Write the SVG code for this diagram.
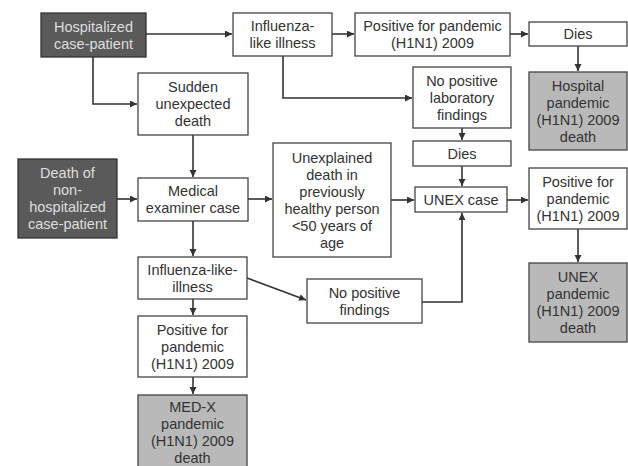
<svg xmlns="http://www.w3.org/2000/svg" width="628" height="466" viewBox="0 0 628 466">
<defs>
<marker id="ah" markerUnits="userSpaceOnUse" markerWidth="8" markerHeight="8" refX="7" refY="3.5" orient="auto">
<path d="M0,0 L7,3.5 L0,7 Z" fill="#333"/>
</marker>
<style>
.b rect{fill:#fff;stroke:#444;stroke-width:1.3}
.d rect{fill:#5a5a5a;stroke:#333;stroke-width:1.3}
.g rect{fill:#b9b9b9;stroke:#444;stroke-width:1.3}
text{font-family:"Liberation Sans",Arial,sans-serif;font-size:14.5px;text-anchor:middle;fill:#333}
.d text{fill:#dedede}
#connectors path{fill:none;stroke:#333;stroke-width:1.6;marker-end:url(#ah)}
</style>
</defs>
<rect width="628" height="466" fill="#fff"/>
<g id="connectors">
<path d="M146,34 H232"/>
<path d="M332,34 H354"/>
<path d="M510,34 H528"/>
<path d="M578,46 V71"/>
<path d="M93,57 V104 H137"/>
<path d="M283,56 V98 H412"/>
<path d="M462,128 V140"/>
<path d="M462,166 V186"/>
<path d="M193,135 V177"/>
<path d="M117,199 H137"/>
<path d="M248,199 H272"/>
<path d="M391,200 H414"/>
<path d="M507,200 H528"/>
<path d="M578,229 V262"/>
<path d="M193,221 V256"/>
<path d="M247,278 L306,300"/>
<path d="M422,302 H462 V213"/>
<path d="M193,299 V315"/>
<path d="M193,377 V394"/>
</g>
<g id="hosp" class="d"><rect x="41" y="13" width="105" height="44"/><text x="93.5" y="31.5">Hospitalized</text><text x="93.5" y="48.5">case-patient</text></g>
<g id="ili1" class="b"><rect x="233" y="13" width="99" height="43"/><text x="282.5" y="31">Influenza-</text><text x="282.5" y="48">like illness</text></g>
<g id="pos1" class="b"><rect x="355" y="13" width="155" height="43"/><text x="432.5" y="31">Positive for pandemic</text><text x="432.5" y="48">(H1N1) 2009</text></g>
<g id="dies1" class="b"><rect x="529" y="22" width="98" height="24"/><text x="578" y="39">Dies</text></g>
<g id="hospdeath" class="g"><rect x="529" y="72" width="98" height="78"/><text x="578" y="90.5">Hospital</text><text x="578" y="107.5">pandemic</text><text x="578" y="124.5">(H1N1) 2009</text><text x="578" y="141.5">death</text></g>
<g id="nolab" class="b"><rect x="413" y="67" width="98" height="61"/><text x="462" y="85.5">No positive</text><text x="462" y="102.5">laboratory</text><text x="462" y="119.5">findings</text></g>
<g id="dies2" class="b"><rect x="413" y="141" width="98" height="25"/><text x="462" y="158.5">Dies</text></g>
<g id="sudden" class="b"><rect x="138" y="73" width="110" height="62"/><text x="193" y="92">Sudden</text><text x="193" y="109">unexpected</text><text x="193" y="126">death</text></g>
<g id="deathnon" class="d"><rect x="18" y="159" width="99" height="79"/><text x="67.5" y="178">Death of</text><text x="67.5" y="195">non-</text><text x="67.5" y="212">hospitalized</text><text x="67.5" y="229">case-patient</text></g>
<g id="me" class="b"><rect x="138" y="178" width="110" height="43"/><text x="193" y="196">Medical</text><text x="193" y="213">examiner case</text></g>
<g id="unexpl" class="b"><rect x="273" y="143" width="118" height="114"/><text x="332" y="162.5">Unexplained</text><text x="332" y="179.5">death in</text><text x="332" y="196.5">previously</text><text x="332" y="213.5">healthy person</text><text x="332" y="230.5">&lt;50 years of</text><text x="332" y="247.5">age</text></g>
<g id="unexcase" class="b"><rect x="415" y="187" width="92" height="25"/><text x="461" y="204.5">UNEX case</text></g>
<g id="pos2" class="b"><rect x="529" y="168" width="98" height="61"/><text x="578" y="186.5">Positive for</text><text x="578" y="203.5">pandemic</text><text x="578" y="220.5">(H1N1) 2009</text></g>
<g id="unexdeath" class="g"><rect x="529" y="263" width="98" height="79"/><text x="578" y="282">UNEX</text><text x="578" y="299">pandemic</text><text x="578" y="316">(H1N1) 2009</text><text x="578" y="333">death</text></g>
<g id="ili2" class="b"><rect x="138" y="257" width="109" height="42"/><text x="192.5" y="274.5">Influenza-like-</text><text x="192.5" y="291.5">illness</text></g>
<g id="nofind" class="b"><rect x="307" y="279" width="115" height="44"/><text x="364.5" y="297.5">No positive</text><text x="364.5" y="314.5">findings</text></g>
<g id="pos3" class="b"><rect x="138" y="316" width="109" height="61"/><text x="192.5" y="334.5">Positive for</text><text x="192.5" y="351.5">pandemic</text><text x="192.5" y="368.5">(H1N1) 2009</text></g>
<g id="medx" class="g"><rect x="138" y="395" width="109" height="79"/><text x="192.5" y="412">MED-X</text><text x="192.5" y="429">pandemic</text><text x="192.5" y="446">(H1N1) 2009</text><text x="192.5" y="463">death</text></g>
</svg>
